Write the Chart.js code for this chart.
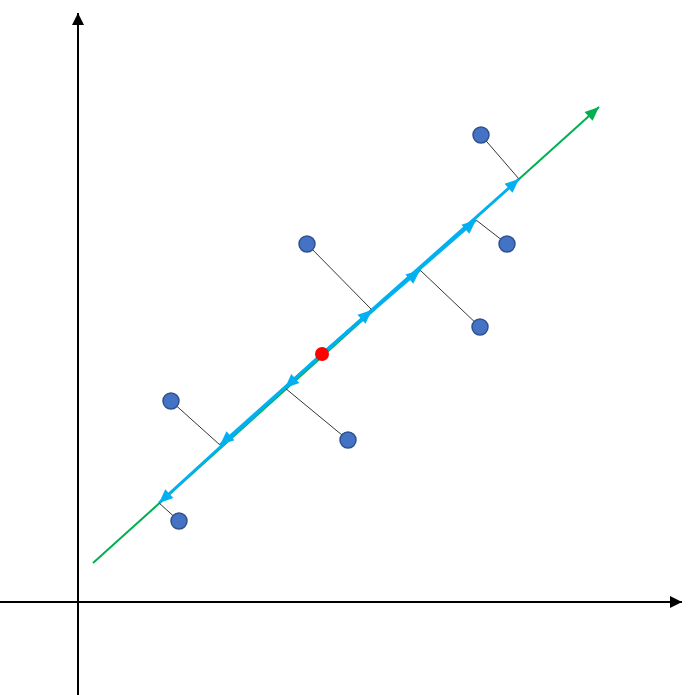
<!DOCTYPE html>
<html>
<head>
<meta charset="utf-8">
<script src="https://cdn.jsdelivr.net/npm/chart.js@4"></script>
<style>
  body { margin: 0; background: #fff; }
  #wrap { width: 695px; height: 695px; }
</style>
</head>
<body>
<div id="wrap"><canvas id="myChart"></canvas></div>
<script>
const ctx = document.getElementById("myChart");

// observations
const pointX = [8.06, 4.58, 8.58, 8.04, 1.86, 5.40, 2.02];
const pointY = [9.34, 7.16, 7.16, 5.50, 4.02, 3.24, 1.62];

// their projections on the principal line (same order)
const projX = [8.82, 5.88, 7.96, 6.84, 2.84, 4.14, 1.62];
const projY = [8.46, 5.84, 7.64, 6.64, 3.14, 4.28, 1.98];

// centre
const centerX = [4.88];
const centerY = [4.96];

// principal direction line
const lineX = [0.30, 10.42];
const lineY = [0.78, 9.90];

// axis extents
const xAxisX = [-1.56, 12.08];
const yAxisY = [-1.86, 11.78];

const xy = (xs, ys) => xs.map((x, i) => ({ x: x, y: ys[i] }));

const datasets = [];

datasets.push({
  data: xy(pointX, pointY),
  pointRadius: 8,
  pointBackgroundColor: "#4472c4",
  pointBorderColor: "#2f528f",
  pointBorderWidth: 1.5,
  order: 0,
});

datasets.push({
  data: xy(centerX, centerY),
  pointRadius: 7,
  pointBackgroundColor: "#ff0000",
  pointBorderColor: "#ff0000",
  pointBorderWidth: 0,
  order: 1,
});

// cyan arrows from the centre to each projection
projX.forEach((px, i) => {
  datasets.push({
    data: [
      { x: centerX[0], y: centerY[0] },
      { x: px, y: projY[i] },
    ],
    showLine: true,
    borderColor: "#00b0f0",
    borderWidth: 2.8,
    pointRadius: 0,
    arrow: { color: "#00b0f0", len: 14, half: 6 },
    order: 2,
  });
});

// thin projection lines
pointX.forEach((x, i) => {
  datasets.push({
    data: [
      { x: x, y: pointY[i] },
      { x: projX[i], y: projY[i] },
    ],
    showLine: true,
    borderColor: "#000000",
    borderWidth: 0.8,
    pointRadius: 0,
    order: 3,
  });
});

datasets.push({
  data: xy(lineX, lineY),
  showLine: true,
  borderColor: "#00b050",
  borderWidth: 2,
  pointRadius: 0,
  arrow: { color: "#00b050", len: 14, half: 6 },
  order: 4,
});

datasets.push({
  data: [{ x: xAxisX[0], y: 0 }, { x: xAxisX[1], y: 0 }],
  showLine: true,
  borderColor: "#000000",
  borderWidth: 2,
  pointRadius: 0,
  arrow: { color: "#000000", len: 12, half: 6 },
  order: 5,
});

datasets.push({
  data: [{ x: 0, y: yAxisY[0] }, { x: 0, y: yAxisY[1] }],
  showLine: true,
  borderColor: "#000000",
  borderWidth: 2,
  pointRadius: 0,
  arrow: { color: "#000000", len: 12, half: 6 },
  order: 5,
});

// arrowheads at the end of lines that ask for one
const arrowHeads = {
  id: "arrowHeads",
  afterDatasetDraw(chart, args) {
    const ds = chart.data.datasets[args.index];
    if (!ds.arrow) return;
    const pts = args.meta.data;
    const a = pts[pts.length - 2];
    const b = pts[pts.length - 1];
    const ang = Math.atan2(b.y - a.y, b.x - a.x);
    const c = chart.ctx;
    const { len, half, color } = ds.arrow;
    c.save();
    c.translate(b.x, b.y);
    c.rotate(ang);
    c.beginPath();
    c.moveTo(0, 0);
    c.lineTo(-len, -half);
    c.lineTo(-len, half);
    c.closePath();
    c.fillStyle = color;
    c.fill();
    c.restore();
  },
};

new Chart(ctx, {
  type: "scatter",
  data: { datasets: datasets },
  plugins: [arrowHeads],
  options: {
    responsive: true,
    maintainAspectRatio: false,
    animation: false,
    layout: { padding: 0, autoPadding: false },
    plugins: {
      legend: { display: false },
      tooltip: { enabled: false },
    },
    scales: {
      x: { type: "linear", min: -1.56, max: 12.34, display: false },
      y: { type: "linear", min: -1.86, max: 12.04, display: false },
    },
  },
});
</script>
</body>
</html>
